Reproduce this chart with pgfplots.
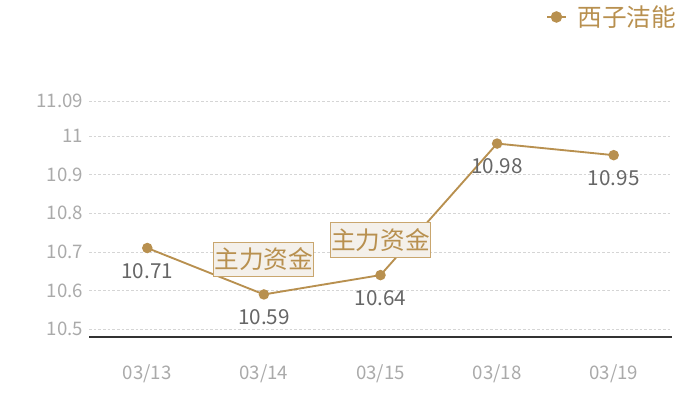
\documentclass[border=0pt]{standalone}
\usepackage{fontspec}
\setmainfont{Noto Sans CJK SC}
\usepackage{pgfplots}
\pgfplotsset{compat=1.18}
\definecolor{gold}{HTML}{B8904F}
\definecolor{boxfill}{HTML}{F4F0EA}
\definecolor{boxline}{HTML}{C9A66E}
\definecolor{ticktext}{HTML}{AAAAAA}
\definecolor{valtext}{HTML}{666666}
\definecolor{gridc}{HTML}{D5D5D5}
\definecolor{axisc}{HTML}{333333}

\begin{document}
\begin{tikzpicture}
\useasboundingbox (0,0) rectangle (525pt,300pt);
\begin{axis}[
    at={(66.75pt,47.25pt)}, anchor=south west,
    scale only axis, width=437.25pt, height=177pt,
    xmin=-0.5, xmax=4.5, ymin=10.48, ymax=11.09,
    clip=false,
    separate axis lines,
    axis x line*=bottom, axis y line*=left,
    x axis line style={draw=axisc, line width=0.8pt},
    y axis line style={draw=none},
    major tick length=0pt,
    xtick={0,1,2,3,4},
    xticklabels={03/13,03/14,03/15,03/18,03/19},
    ytick={10.5,10.6,10.7,10.8,10.9,11,11.09},
    yticklabels={10.5,10.6,10.7,10.8,10.9,11,11.09},
    ymajorgrids,
    major grid style={draw=gridc, dash pattern=on 2pt off 1.5pt, line width=0.45pt},
    /pgf/number format/assume math mode=true,
    ticklabel style={font=\fontsize{14pt}{16pt}\selectfont, text=ticktext},
    xticklabel style={yshift=-17pt},
    yticklabel style={xshift=-1pt},
    legend style={at={(1.012,1.356)}, anchor=east, draw=none, fill=none,
        inner sep=0pt, font=\fontsize{18.5pt}{21pt}\selectfont, text=gold},
    legend image code/.code={
        \draw[mark repeat=2, mark phase=2, mark size=3.6pt, #1]
            plot coordinates {(0pt,0pt) (7pt,0pt) (14pt,0pt)};
        \path (20pt,0pt);},
]
\addplot[gold, line width=1.4pt, mark=*, mark size=3.2pt,
    mark options={fill=gold, draw=gold},
    nodes near coords,
    point meta=explicit symbolic,
    every node near coord/.append style={anchor=center, yshift=-17pt,
        text=valtext, font=\fontsize{15.5pt}{18pt}\selectfont}]
    coordinates {
    (0,10.71) [10.71]
    (1,10.59) [10.59]
    (2,10.64) [10.64]
    (3,10.98) [10.98]
    (4,10.95) [10.95]
};
\addlegendentry{西子洁能}
\addplot[draw=none, forget plot,
    nodes near coords={主力资金},
    every node near coord/.append style={anchor=center, yshift=26.3pt,
        draw=boxline, fill=boxfill, line width=0.8pt, text=gold,
        minimum width=75pt, minimum height=26pt, inner sep=0pt,
        font=\fontsize{18.5pt}{21pt}\selectfont}]
    coordinates {(1,10.59) (2,10.64)};
\end{axis}
\end{tikzpicture}
\end{document}
